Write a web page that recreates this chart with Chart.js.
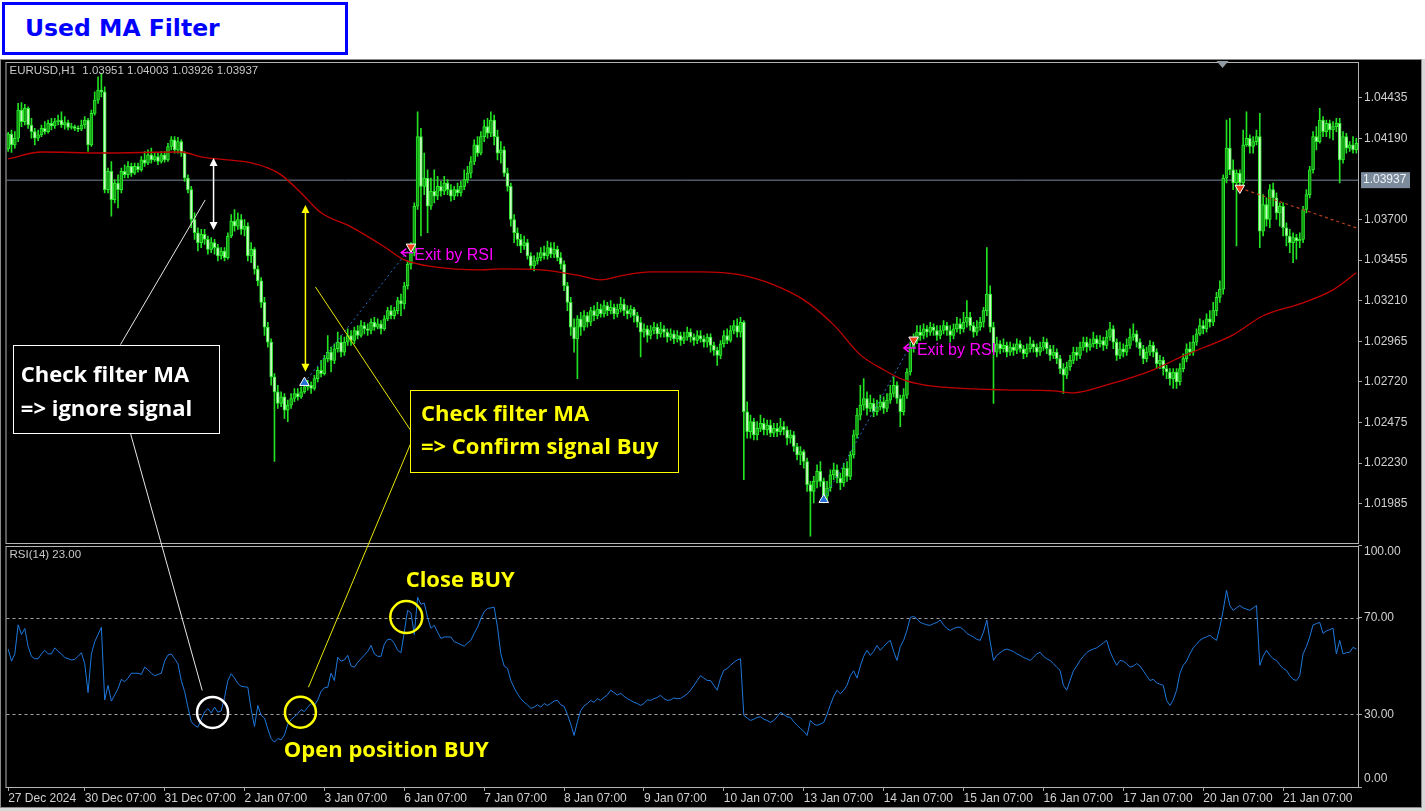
<!DOCTYPE html>
<html>
<head>
<meta charset="utf-8">
<title>Used MA Filter</title>
<script src="https://cdn.jsdelivr.net/npm/chart.js@4.4.1/dist/chart.umd.min.js"></script>
<style>
  html, body { margin: 0; padding: 0; background: #fff; }
  #wrap { position: relative; width: 1425px; height: 811px; overflow: hidden; }
  #chart { position: absolute; left: 0; top: 0; }
  .title {
    position: absolute; left: 2px; top: 2px; width: 320px; height: 47px; padding-left: 20px;
    border: 3px solid #0000ff; background: #fff; color: #0000ff;
    font: bold 23.5px "DejaVu Sans", sans-serif; line-height: 47px;
  }
</style>
</head>
<body>
<div id="wrap">
  <canvas id="chart" width="1425" height="811"></canvas>
  <div class="title">Used MA Filter</div>
</div>
<script>
// prices are in points above 1.00000 (4190 = 1.04190)
const opens = [
  4125,4215,4150,4190,4360,4290,4370,4270,4230,4190, 4210,4250,4230,4280,4265,4290,4300,4270,4285,4255,
  4260,4250,4245,4270,4300,4150,4340,4420,4480,4470, 3880,3990,3820,3920,3880,3990,3970,4020,3980,4020,
  4000,4060,4040,4090,4060,4080,4050,4090,4060,4140, 4180,4120,4170,4100,3950,3880,3700,3620,3560,3610,
  3580,3520,3560,3530,3480,3510,3470,3600,3690,3660, 3700,3640,3660,3480,3520,3400,3330,3200,3050,2960,
  2750,2660,2590,2630,2550,2580,2620,2650,2630,2660, 2690,2700,2680,2740,2790,2770,2860,2900,2850,2920,
  2960,2900,2960,3000,2970,3030,3000,3060,3040,3030, 3080,3050,3070,3040,3100,3150,3120,3150,3210,3190,
  3300,3430,3500,3780,4200,3900,3950,3780,3870,3840, 3900,3870,3920,3880,3840,3880,3860,3900,3940,3980,
  4050,4150,4100,4200,4260,4220,4300,4200,4100,4120, 3980,3900,3700,3620,3580,3540,3560,3480,3420,3450,
  3470,3500,3480,3530,3490,3520,3470,3430,3300,3200, 3050,2980,3100,3050,3120,3080,3150,3120,3160,3130,
  3180,3150,3170,3130,3160,3190,3150,3130,3160,3120, 3080,3020,3040,3000,3030,3050,3010,3040,3020,2990,
  3010,2980,3000,2970,2990,3020,2990,2970,3000,2980, 2960,2990,2940,2910,2880,2950,3000,2970,3030,3060,
  3020,3080,2540,2420,2480,2400,2440,2470,2430,2460, 2410,2440,2420,2450,2430,2380,2400,2330,2280,2300,
  2240,2100,2060,2120,2180,2120,2030,2080,2160,2190, 2140,2110,2200,2150,2280,2400,2520,2580,2620,2560,
  2590,2540,2570,2600,2560,2610,2650,2700,2620,2540, 2640,2780,2930,2970,3020,3000,3040,3020,3050,3030,
  3000,3030,3060,3030,3000,3040,3070,3040,3080,3110, 3060,3020,3050,3080,3150,3250,3050,2900,2950,2920,
  2940,2900,2930,2910,2950,2920,2890,2920,2950,2930, 2900,2930,2960,2920,2880,2900,2860,2800,2760,2810,
  2850,2900,2880,2930,2960,2930,2950,2980,2950,2970, 2940,2990,3040,2960,2880,2920,2900,2940,2990,3010,
  2960,2920,2860,2900,2940,2900,2830,2850,2800,2780, 2740,2780,2720,2800,2860,2920,2900,2960,3010,3060,
  3040,3100,3080,3150,3230,3280,3950,4130,4000,3920, 3980,3920,4150,4190,4140,4170,4200,3630,3790,3700,
  3880,3830,3740,3780,3650,3600,3560,3590,3570,3580, 3760,3850,4000,4200,4170,4300,4230,4280,4240,4260,
  4280,4060,4200,4130,4150,4120
];
const highs = [
  4225,4240,4230,4400,4405,4395,4380,4310,4250,4240, 4270,4290,4300,4310,4310,4330,4350,4320,4300,4280,
  4270,4265,4300,4320,4310,4360,4470,4560,4580,4500, 4010,4050,3940,3970,4010,4030,4050,4040,4040,4040,
  4080,4110,4120,4130,4100,4100,4110,4110,4160,4200, 4200,4195,4180,4110,3970,3900,3740,3650,3640,3640,
  3600,3590,3580,3550,3530,3530,3620,3730,3760,3740, 3730,3700,3680,3560,3530,3420,3350,3230,3080,2980,
  2770,2700,2660,2650,2610,2650,2680,2680,2690,2720, 2730,2720,2760,2810,2850,2880,3000,2930,2950,3020,
  3000,2990,3040,3030,3050,3060,3090,3080,3070,3100, 3110,3100,3090,3120,3170,3180,3170,3230,3250,3320,
  3450,3560,3800,4350,4250,4100,4000,3950,4000,3960, 3930,3960,3940,3910,3900,3920,3930,4000,4020,4080,
  4180,4200,4230,4300,4310,4350,4330,4240,4170,4140, 4010,3920,3730,3650,3610,3600,3580,3500,3480,3500,
  3530,3540,3570,3560,3560,3540,3500,3450,3320,3230, 3100,3120,3140,3150,3140,3170,3180,3200,3190,3210,
  3200,3210,3190,3190,3230,3220,3180,3180,3170,3140, 3110,3070,3060,3060,3080,3070,3080,3060,3040,3040,
  3030,3030,3020,3020,3050,3040,3010,3030,3030,3000, 3010,3010,2960,2930,2970,3030,3040,3060,3090,3100,
  3110,3090,2600,2520,2500,2480,2520,2500,2490,2490, 2470,2470,2500,2480,2450,2430,2420,2350,2330,2310,
  2260,2120,2150,2220,2240,2140,2120,2190,2230,2220, 2170,2230,2240,2300,2430,2560,2700,2740,2660,2640,
  2620,2610,2640,2630,2650,2700,2750,2720,2640,2680, 2800,2960,3010,3060,3060,3070,3060,3080,3070,3060,
  3060,3090,3080,3060,3070,3110,3100,3140,3210,3140, 3080,3090,3110,3170,3530,3300,3080,2990,2970,2980,
  2960,2960,2950,2980,2970,2940,2950,2990,2970,2950, 2960,2990,2980,2940,2940,2920,2880,2830,2840,2880,
  2930,2930,2960,2990,2990,2980,3020,3000,3000,2990, 3030,3080,3060,2980,2960,2950,2980,3040,3070,3030,
  2980,2940,2930,2970,2960,2920,2880,2870,2820,2800, 2800,2800,2830,2890,2950,2960,3000,3040,3100,3090,
  3130,3150,3200,3260,3330,3970,4300,4310,4060,4000, 4000,4240,4350,4210,4200,4240,4340,3850,3830,3910,
  3920,3860,3800,3800,3680,3640,3620,3610,3620,3780, 3880,4020,4230,4260,4370,4320,4300,4300,4290,4310,
  4310,4230,4220,4170,4200,4190
];
const lows = [
  4110,4105,4130,4170,4260,4270,4250,4190,4150,4175, 4200,4215,4220,4240,4250,4270,4255,4245,4240,4245,
  4235,4230,4235,4250,4110,4140,4330,4400,4440,3860, 3860,3720,3800,3770,3860,3950,3950,3960,3970,3985,
  3990,4020,4030,4040,4050,4030,4040,4045,4050,4120, 4100,4100,4080,3930,3860,3650,3580,3510,3530,3550,
  3490,3500,3490,3450,3460,3450,3460,3590,3630,3640, 3610,3600,3450,3440,3370,3300,3170,3000,2930,2700,
  2240,2560,2570,2500,2480,2560,2600,2610,2620,2650, 2670,2650,2670,2720,2750,2760,2840,2780,2830,2900,
  2870,2880,2940,2940,2950,2980,2990,3010,3000,3010, 3030,3040,3010,3030,3090,3100,3100,3130,3120,3160,
  3280,3400,3480,3760,3600,3850,3620,3760,3800,3820, 3840,3850,3850,3810,3820,3840,3840,3880,3920,3950,
  4030,4080,4090,4170,4190,4200,4150,4060,4040,3960, 3870,3660,3560,3540,3500,3520,3460,3400,3390,3430,
  3450,3460,3460,3470,3470,3450,3400,3270,3150,3000, 2900,2740,3000,3030,3050,3060,3090,3100,3110,3110,
  3120,3130,3100,3110,3140,3120,3100,3110,3080,3050, 2870,2990,2960,2980,3010,2980,2990,2990,2960,2970,
  2950,2960,2940,2950,2970,2960,2940,2950,2960,2930, 2930,2900,2880,2820,2860,2930,2950,2960,3010,2990,
  2990,2130,2380,2380,2370,2370,2420,2400,2400,2390, 2390,2390,2400,2400,2340,2350,2300,2250,2220,2200,
  2060,1790,1990,2080,2090,1990,2000,2060,2130,2110, 2070,2090,2120,2130,2260,2380,2490,2550,2520,2540,
  2510,2520,2550,2530,2540,2590,2630,2590,2450,2520, 2620,2760,2900,2950,2970,2980,2990,3000,3000,2970,
  2980,3010,3000,2960,2980,3020,3010,3020,3050,3030, 2990,3000,3030,3050,3120,3020,2590,2870,2890,2900,
  2870,2880,2880,2890,2900,2860,2870,2900,2900,2870, 2880,2910,2890,2850,2860,2830,2770,2650,2740,2790,
  2830,2850,2860,2910,2900,2910,2930,2920,2930,2910, 2920,2970,2920,2850,2860,2870,2880,2920,2970,2930,
  2880,2830,2840,2880,2870,2800,2800,2760,2740,2700, 2680,2680,2700,2780,2840,2880,2880,2940,3000,3010,
  3020,3050,3060,3120,3200,3250,3920,3970,3880,3540, 3880,3900,4140,4100,4100,4150,3530,3600,3660,3650,
  3780,3700,3660,3600,3540,3500,3440,3460,3530,3560, 3740,3830,3980,4120,4160,4200,4200,4190,4180,4230,
  3920,4040,4100,4110,4100,4100
];
const closes = [
  4215,4150,4190,4360,4290,4370,4270,4230,4190,4210, 4250,4230,4280,4265,4290,4300,4270,4285,4255,4260,
  4250,4245,4270,4300,4150,4340,4420,4480,4470,3880, 3990,3820,3920,3880,3990,3970,4020,3980,4020,4000,
  4060,4040,4090,4060,4080,4050,4090,4060,4140,4180, 4120,4170,4100,3950,3880,3700,3620,3560,3610,3580,
  3520,3560,3530,3480,3510,3470,3600,3690,3660,3700, 3640,3660,3480,3520,3400,3330,3200,3050,2960,2750,
  2660,2590,2630,2550,2580,2620,2650,2630,2660,2690, 2700,2680,2740,2790,2770,2860,2900,2850,2920,2960,
  2900,2960,3000,2970,3030,3000,3060,3040,3030,3080, 3050,3070,3040,3100,3150,3120,3150,3210,3190,3300,
  3430,3500,3780,4200,3900,3950,3780,3870,3840,3900, 3870,3920,3880,3840,3880,3860,3900,3940,3980,4050,
  4150,4100,4200,4260,4220,4300,4200,4100,4120,3980, 3900,3700,3620,3580,3540,3560,3480,3420,3450,3470,
  3500,3480,3530,3490,3520,3470,3430,3300,3200,3050, 2980,3100,3050,3120,3080,3150,3120,3160,3130,3180,
  3150,3170,3130,3160,3190,3150,3130,3160,3120,3080, 3020,3040,3000,3030,3050,3010,3040,3020,2990,3010,
  2980,3000,2970,2990,3020,2990,2970,3000,2980,2960, 2990,2940,2910,2880,2950,3000,2970,3030,3060,3020,
  3080,2540,2420,2480,2400,2440,2470,2430,2460,2410, 2440,2420,2450,2430,2380,2400,2330,2280,2300,2240,
  2100,2060,2120,2180,2120,2030,2080,2160,2190,2140, 2110,2200,2150,2280,2400,2520,2580,2620,2560,2590,
  2540,2570,2600,2560,2610,2650,2700,2620,2540,2640, 2780,2930,2970,3020,3000,3040,3020,3050,3030,3000,
  3030,3060,3030,3000,3040,3070,3040,3080,3110,3060, 3020,3050,3080,3150,3250,3050,2900,2950,2920,2940,
  2900,2930,2910,2950,2920,2890,2920,2950,2930,2900, 2930,2960,2920,2880,2900,2860,2800,2760,2810,2850,
  2900,2880,2930,2960,2930,2950,2980,2950,2970,2940, 2990,3040,2960,2880,2920,2900,2940,2990,3010,2960,
  2920,2860,2900,2940,2900,2830,2850,2800,2780,2740, 2780,2720,2800,2860,2920,2900,2960,3010,3060,3040,
  3100,3080,3150,3230,3280,3950,4130,4000,3920,3980, 3920,4150,4190,4140,4170,4200,3630,3790,3700,3880,
  3830,3740,3780,3650,3600,3560,3590,3570,3580,3760, 3850,4000,4200,4170,4300,4230,4280,4240,4260,4280,
  4060,4200,4130,4150,4120,4160
];
const rsiValues = [
  57,52,55,67,63,65.5,58,54,53,53, 55,56.5,55,55,57.5,56,55,53.5,53,52.5,
  52.7,54,55.5,51,39,55,60,63,66,36, 42,35.5,38,40.6,44.5,43.5,45,47,47,47,
  46.5,49.5,48.5,47,46,46.5,47,52,54.5,55, 53,51,44,39.5,33,27,25.5,24.7,28,31,
  32.4,30.6,33,30.9,31.5,37,44,46.8,45,42.8, 41.6,41.4,41.2,32,25,33.7,29.6,28.5,24,20,
  18.5,20,19.5,21.5,26,27.9,29,30.4,32,31.2, 33,34.5,33.7,36,39.5,41,41.2,47,44,53.6,
  52,52.5,54.4,50,49.5,51.5,53,54.5,56,58.5, 55,54,54,59,61,61,59.4,56.5,55.5,64,
  73,72,63,78.4,75.5,76,70,65.6,66.8,64, 61.4,62,62,62,60,59.5,58.8,58.2,59.5,60.6,
  63.5,66,69.5,72.5,73.8,74,74.3,66,55,50, 49,44,41,38.5,36.5,35,34,32.5,33,34,
  33,34.5,33.7,34.5,35.5,35.8,34,33.3,30,26, 21.3,27,31.6,33.5,34.5,35.8,35,36.5,35.8,37,
  38,40,39,38,38.7,37.5,36.5,35.8,35,34.5, 33.7,34.5,36,35.8,36.5,37,37.9,36.5,35.8,36,
  36.8,36.5,36.6,37.5,38.5,40,42,44,46,45, 44,44,42,40,45,48.2,49,50.3,51.5,52.5,
  53,29.6,28.5,27.5,28,28.8,29,28,27.5,26.7, 27.5,29,30.8,30,29,28.8,27,25.5,24.2,23,
  21.3,27.5,26,25.5,26,26.7,30,34,37.5,40, 38.5,40,42,46,48,45,50,54,56.5,54.4,
  56,58.5,56.5,58,59.5,60.6,56,52.3,58,60.6, 64.7,70,70.5,69.5,68,67.5,67,66.8,67.5,68,
  69,67,65.5,64.7,65.5,66,66,65,63.5,62.7, 62,61,60.6,64,69,60,52.3,54.4,55.5,56.5,
  57,56.5,56,55,54.4,53.5,53,52.3,53.5,55, 55.7,54,53,52.3,51,49.5,48.2,42,40,44,
  48,50,52.3,54,55.5,56.5,57,57.5,58.5,59.5, 60.6,56,53,50.3,52.3,52,51,49.5,50,51,
  50,48,46,44,44.5,43,42.5,42,35.8,33.7, 36,40,47,50.3,52,55,57.5,59,60.6,61.5,
  62,62.7,61.5,60.6,66,73,81.3,75,73,74, 75,74,73.5,73,74,75,50.3,54,56.5,54.5,
  53,52.3,50.5,49,48.2,46,44.5,44,46,55, 58,62,67,67.5,68,63.5,64.5,65,65.6,55,
  60.6,55,55.5,55.7,57.7,57
];
// moving average read at a set of bars
const maBars = [0,10,28,52,58,73,78,82,88,90,94,103,113,119,128,142,148,160,172,178,184,193,208,220,230,239,248,256,263,269,275,284,299,314,320,329,344,353,359,368,377,389,398,405];
const maValues = [4065,4107,4101,4107,4077,4041,4011,3969,3860,3818,3740,3655,3535,3456,3414,3396,3402,3396,3360,3336,3360,3384,3384,3366,3306,3215,3064,2883,2793,2732,2702,2684,2672,2666,2654,2696,2793,2877,2926,3004,3119,3197,3275,3378];

const priceTicks = [1985, 2230, 2475, 2720, 2965, 3210, 3455, 3700, 4190, 4435];
const rsiTicks = [0, 30, 70, 100];
const rsiLevels = [30, 70];
const timeTickBars = [0, 23, 47, 71, 95, 119, 143, 167, 191, 215, 239, 263, 287, 311, 335, 359, 383];
const timeLabels = ['27 Dec 2024', '30 Dec 07:00', '31 Dec 07:00', '2 Jan 07:00', '3 Jan 07:00', '6 Jan 07:00',
  '7 Jan 07:00', '8 Jan 07:00', '9 Jan 07:00', '10 Jan 07:00', '13 Jan 07:00', '14 Jan 07:00', '15 Jan 07:00',
  '16 Jan 07:00', '17 Jan 07:00', '20 Jan 07:00', '21 Jan 07:00'];

// trades
const buyOpenBars = [89, 245];
const buyOpenPrices = [2715, 2009];
const buyCloseBars = [121, 272];
const buyClosePrices = [3535, 2974];
const sellOpenBars = [370];
const sellOpenPrices = [3890];
const sellNowPrices = [3649];
const bidPrice = 3937;
const priceMin = 1736, priceMax = 4644;

const N = closes.length;
const px = v => 1 + v / 100000;
const bull = i => closes[i] >= opens[i];

const FONT = '"Liberation Sans", Arial, sans-serif';
const BOLD = '"Open Sans", "Noto Sans", sans-serif';

const tradeLines = buyOpenBars.map((b, k) => ({
  type: 'line', data: [{ x: b, y: px(buyOpenPrices[k]) }, { x: buyCloseBars[k], y: px(buyClosePrices[k]) }],
  borderColor: '#2c6fc4', borderWidth: 1, borderDash: [2, 3], pointRadius: 0, yAxisID: 'y', order: 2
})).concat(sellOpenBars.map((b, k) => ({
  type: 'line', data: [{ x: b, y: px(sellOpenPrices[k]) }, { x: N - 1, y: px(sellNowPrices[k]) }],
  borderColor: '#b8401c', borderWidth: 1.2, borderDash: [3, 3], pointRadius: 0, yAxisID: 'y', order: 2
})));

// ---- overlay: chart window, frames, annotations ----
function pt(chart, bar, v, pane) {
  const ys = pane === 'rsi' ? chart.scales.y2 : chart.scales.y;
  return { x: chart.scales.x.getPixelForValue(bar), y: ys.getPixelForValue(pane === 'rsi' ? v : px(v)) };
}

function vArrow(ctx, x, yTop, yBot, color) {
  const hw = 4, hh = 8;
  ctx.strokeStyle = color; ctx.fillStyle = color; ctx.lineWidth = 1.5;
  ctx.beginPath(); ctx.moveTo(x, yTop + hh - 1); ctx.lineTo(x, yBot - hh + 1); ctx.stroke();
  ctx.beginPath(); ctx.moveTo(x, yTop); ctx.lineTo(x - hw, yTop + hh); ctx.lineTo(x + hw, yTop + hh); ctx.closePath(); ctx.fill();
  ctx.beginPath(); ctx.moveTo(x, yBot); ctx.lineTo(x - hw, yBot - hh); ctx.lineTo(x + hw, yBot - hh); ctx.closePath(); ctx.fill();
}

function segment(ctx, a, b, color) {
  ctx.strokeStyle = color; ctx.lineWidth = 1;
  ctx.beginPath(); ctx.moveTo(a.x, a.y); ctx.lineTo(b.x, b.y); ctx.stroke();
}

function noteBox(ctx, a, b, color, lines, textAt) {
  ctx.fillStyle = '#000';
  ctx.fillRect(a.x, a.y, b.x - a.x, b.y - a.y);
  ctx.strokeStyle = color; ctx.lineWidth = 1;
  ctx.strokeRect(Math.round(a.x) + 0.5, Math.round(a.y) + 0.5, Math.round(b.x - a.x), Math.round(b.y - a.y));
  ctx.fillStyle = color;
  ctx.font = 'bold 22px ' + BOLD;
  ctx.textAlign = 'left'; ctx.textBaseline = 'middle';
  lines.forEach((t, k) => ctx.fillText(t, textAt[k].x, textAt[k].y));
}

function ring(ctx, c, r, color) {
  ctx.strokeStyle = color; ctx.lineWidth = 2.5;
  ctx.beginPath(); ctx.arc(c.x, c.y, r, 0, Math.PI * 2); ctx.stroke();
}

function exitLabel(ctx, p) {
  ctx.fillStyle = '#ff00ff'; ctx.strokeStyle = '#ff00ff'; ctx.lineWidth = 1.5;
  ctx.beginPath(); ctx.moveTo(p.x - 8, p.y - 4); ctx.lineTo(p.x - 13, p.y); ctx.lineTo(p.x - 8, p.y + 4); ctx.stroke();
  ctx.beginPath(); ctx.moveTo(p.x - 13, p.y); ctx.lineTo(p.x - 1, p.y); ctx.stroke();
  ctx.font = '16px ' + FONT; ctx.textAlign = 'left'; ctx.textBaseline = 'middle';
  ctx.fillText('Exit by RSI', p.x, p.y + 3);
}

const overlay = {
  id: 'mtOverlay',
  beforeDraw(chart) {
    const { ctx, width, height } = chart;
    ctx.save();
    ctx.fillStyle = '#ffffff'; ctx.fillRect(0, 0, width, height);
    ctx.fillStyle = '#000000'; ctx.fillRect(0, 59, 1422, 749);
    ctx.fillStyle = '#d8d8d8'; ctx.fillRect(1422, 59, 3, 752); ctx.fillRect(0, 808, 1422, 3);
    ctx.strokeStyle = '#8a8a8a'; ctx.lineWidth = 1;
    ctx.strokeRect(0.5, 59.5, 1421, 748);
    ctx.restore();
  },
  beforeDatasetsDraw(chart) {
    const { ctx, chartArea } = chart;
    ctx.save();
    ctx.strokeStyle = '#a0a0a0'; ctx.lineWidth = 1; ctx.setLineDash([3, 3]);
    rsiLevels.forEach(v => {
      const y = Math.round(chart.scales.y2.getPixelForValue(v)) + 0.5;
      ctx.beginPath(); ctx.moveTo(chartArea.left, y); ctx.lineTo(chartArea.right + 4, y); ctx.stroke();
    });
    ctx.restore();
  },
  afterDatasetsDraw(chart) {
    const { ctx, chartArea } = chart;
    const ya = chart.scales.y, yb = chart.scales.y2;
    const L = chartArea.left - 0.5, R = chartArea.right + 0.5;
    ctx.save();
    ctx.fillStyle = '#000';
    ctx.fillRect(L, ya.bottom - 2, R - L, 4);
    ctx.strokeStyle = '#b4b4b4'; ctx.lineWidth = 1;
    ctx.strokeRect(L, ya.top - 0.5, R - L, ya.bottom - ya.top - 1);
    ctx.strokeRect(L, yb.top + 1.5, R - L, yb.bottom - yb.top - 1);
    ctx.restore();
  },
  afterDraw(chart) {
    const { ctx, chartArea } = chart;
    const yb = chart.scales.y2;
    ctx.save();

    // header texts
    ctx.font = '11.5px ' + FONT; ctx.fillStyle = '#c8c8c8';
    ctx.textAlign = 'left'; ctx.textBaseline = 'middle';
    ctx.fillText('EURUSD,H1  1.03951 1.04003 1.03926 1.03937', chartArea.left + 3, chartArea.top + 8);
    ctx.fillText('RSI(14) 23.00', chartArea.left + 3, yb.top + 10);

    // end labels of the RSI scale sit inside the pane, as in the terminal
    ctx.font = '12px ' + FONT; ctx.fillStyle = '#d0d0d0';
    ctx.fillText((rsiTicks[rsiTicks.length - 1]).toFixed(2), chartArea.right + 6, yb.getPixelForValue(rsiTicks[rsiTicks.length - 1]) + 7);
    ctx.fillText((rsiTicks[0]).toFixed(2), chartArea.right + 6, yb.getPixelForValue(rsiTicks[0]) - 8);

    // bid line label
    const by = chart.scales.y.getPixelForValue(px(bidPrice));
    ctx.fillStyle = '#7b8b9c';
    ctx.fillRect(chartArea.right + 3, by - 8, 49, 16);
    ctx.fillStyle = '#eef2f6'; ctx.font = '12px ' + FONT;
    ctx.fillText((px(bidPrice)).toFixed(5), chartArea.right + 5, by);

    // chart shift marker
    const sx = chart.scales.x.getPixelForValue(364.8);
    ctx.fillStyle = '#8f9aa5';
    ctx.beginPath(); ctx.moveTo(sx - 6, chartArea.top - 2); ctx.lineTo(sx + 6, chartArea.top - 2); ctx.lineTo(sx, chartArea.top + 5); ctx.closePath(); ctx.fill();

    // connector lines
    segment(ctx, pt(chart, 59.2, 3818), pt(chart, 33.7, 2944), '#e6e6e6');
    segment(ctx, pt(chart, 36.7, 2413), pt(chart, 58.3, 39.9, 'rsi'), '#e6e6e6');
    segment(ctx, pt(chart, 92.3, 3293), pt(chart, 120.8, 2431), '#e8e800');
    segment(ctx, pt(chart, 121.4, 2371), pt(chart, 90.2, 41.2, 'rsi'), '#e8e800');

    // boxes
    noteBox(ctx, pt(chart, 1.6, 2944), pt(chart, 63.5, 2413), '#ffffff',
      ['Check filter MA', '=> ignore signal'], [pt(chart, 3.8, 2757), pt(chart, 3.8, 2552)]);
    noteBox(ctx, pt(chart, 120.8, 2672), pt(chart, 201.3, 2178), '#ffff00',
      ['Check filter MA', '=> Confirm signal Buy'], [pt(chart, 124, 2522), pt(chart, 124, 2323)]);

    // distance arrows
    const wa = pt(chart, 61.7, 4071), wb = pt(chart, 61.7, 3637);
    vArrow(ctx, wa.x, wa.y, wb.y, '#ffffff');
    const ya1 = pt(chart, 89.3, 3788), ya2 = pt(chart, 89.3, 2781);
    vArrow(ctx, ya1.x, ya1.y, ya2.y, '#ffff00');

    // exit labels
    exitLabel(ctx, pt(chart, 122, 3500));
    exitLabel(ctx, pt(chart, 273, 2925));

    // RSI circles and captions
    ring(ctx, pt(chart, 61.4, 30.8, 'rsi'), 15.5, '#ffffff');
    ring(ctx, pt(chart, 87.8, 30.9, 'rsi'), 15.5, '#ffff00');
    ring(ctx, pt(chart, 119.6, 70.2, 'rsi'), 16, '#ffff00');
    ctx.fillStyle = '#ffff00'; ctx.font = 'bold 22px ' + BOLD;
    ctx.textAlign = 'left'; ctx.textBaseline = 'middle';
    const cb = pt(chart, 119.4, 85.4, 'rsi');
    ctx.fillText('Close BUY', cb.x, cb.y);
    const ob = pt(chart, 82.8, 15.1, 'rsi');
    ctx.fillText('Open position BUY', ob.x, ob.y);

    ctx.restore();
  }
};

new Chart(document.getElementById('chart'), {
  type: 'bar',
  data: {
    datasets: [
      { type: 'line', label: 'buy', data: buyOpenBars.map((b, k) => ({ x: b, y: px(buyOpenPrices[k]) })),
        showLine: false, pointStyle: 'triangle', pointRadius: 5.5, pointBackgroundColor: '#2470d8',
        pointBorderColor: '#ffffff', pointBorderWidth: 1, yAxisID: 'y', order: 1 },
      { type: 'line', label: 'close', data: buyCloseBars.map((b, k) => ({ x: b, y: px(buyClosePrices[k]) }))
          .concat(sellOpenBars.map((b, k) => ({ x: b, y: px(sellOpenPrices[k]) }))),
        showLine: false, pointStyle: 'triangle', pointRotation: 180, pointRadius: 5.5, pointBackgroundColor: '#f0401c',
        pointBorderColor: '#ffffff', pointBorderWidth: 1, yAxisID: 'y', order: 1 },
      ...tradeLines,
      { type: 'line', label: 'MA', data: maBars.map((b, k) => ({ x: b, y: px(maValues[k]) })),
        borderColor: '#c00000', borderWidth: 1.3, pointRadius: 0, cubicInterpolationMode: 'monotone',
        yAxisID: 'y', order: 3 },
      { type: 'line', label: 'RSI(14)', data: rsiValues.map((v, i) => ({ x: i, y: v })),
        borderColor: '#1e78dc', borderWidth: 1, pointRadius: 0, yAxisID: 'y2', order: 3 },
      { type: 'bar', label: 'body', data: closes.map((c, i) => ({ x: i, y: [px(opens[i]), px(c)] })),
        backgroundColor: ctx => bull(ctx.dataIndex) ? '#109a10' : '#cff8c8',
        borderColor: '#2ee82e', borderWidth: 1, borderSkipped: false, barThickness: 3, minBarLength: 1,
        grouped: false, yAxisID: 'y', order: 7 },
      { type: 'bar', label: 'wick', data: highs.map((h, i) => ({ x: i, y: [px(lows[i]), px(h)] })),
        backgroundColor: '#22e022', borderWidth: 0, barThickness: 1, grouped: false, yAxisID: 'y', order: 8 },
      { type: 'line', label: 'bid', data: [{ x: -0.5, y: px(bidPrice) }, { x: N - 0.5, y: px(bidPrice) }],
        borderColor: '#778899', borderWidth: 1, pointRadius: 0, yAxisID: 'y', order: 9 }
    ]
  },
  options: {
    responsive: false,
    devicePixelRatio: 1,
    animation: false,
    events: [],
    indexAxis: 'x',
    layout: { padding: { left: 4, right: 3, top: 63, bottom: 0 } },
    plugins: { legend: { display: false }, tooltip: { enabled: false } },
    scales: {
      x: {
        type: 'linear', min: -0.5, max: N - 0.5, offset: false,
        afterBuildTicks: s => { s.ticks = timeTickBars.map(v => ({ value: v })); },
        afterFit: s => { s.height = 24; },
        grid: { display: true, drawOnChartArea: false, drawTicks: true, tickLength: 4, tickColor: '#a8a8a8', offset: false },
        border: { display: false },
        ticks: {
          autoSkip: false, maxRotation: 0, minRotation: 0, align: 'start', padding: 0,
          color: '#d0d0d0', font: { family: FONT, size: 12 },
          callback: v => { const k = timeTickBars.indexOf(v); return k >= 0 ? timeLabels[k] : ''; }
        }
      },
      y: {
        type: 'linear', position: 'right', stack: 'panes', stackWeight: 482,
        min: px(priceMin), max: px(priceMax),
        afterBuildTicks: s => { s.ticks = priceTicks.map(v => ({ value: px(v) })); },
        afterFit: s => { s.width = 64; },
        grid: { display: true, drawOnChartArea: false, drawTicks: true, tickLength: 4, tickColor: '#a8a8a8' },
        border: { display: false },
        ticks: { autoSkip: false, padding: 2, color: '#d0d0d0', font: { family: FONT, size: 12 },
          callback: v => v.toFixed(5) }
      },
      y2: {
        type: 'linear', position: 'right', stack: 'panes', stackWeight: 242,
        min: 0, max: 100,
        afterBuildTicks: s => { s.ticks = rsiTicks.map(v => ({ value: v })); },
        afterFit: s => { s.width = 64; },
        grid: { display: true, drawOnChartArea: false, drawTicks: true, tickLength: 4, tickColor: '#a8a8a8' },
        border: { display: false },
        ticks: { autoSkip: false, padding: 2, color: '#d0d0d0', font: { family: FONT, size: 12 },
          callback: v => (v === rsiTicks[0] || v === rsiTicks[rsiTicks.length - 1]) ? '' : v.toFixed(2) }
      }
    }
  },
  plugins: [overlay]
});
</script>
</body>
</html>
